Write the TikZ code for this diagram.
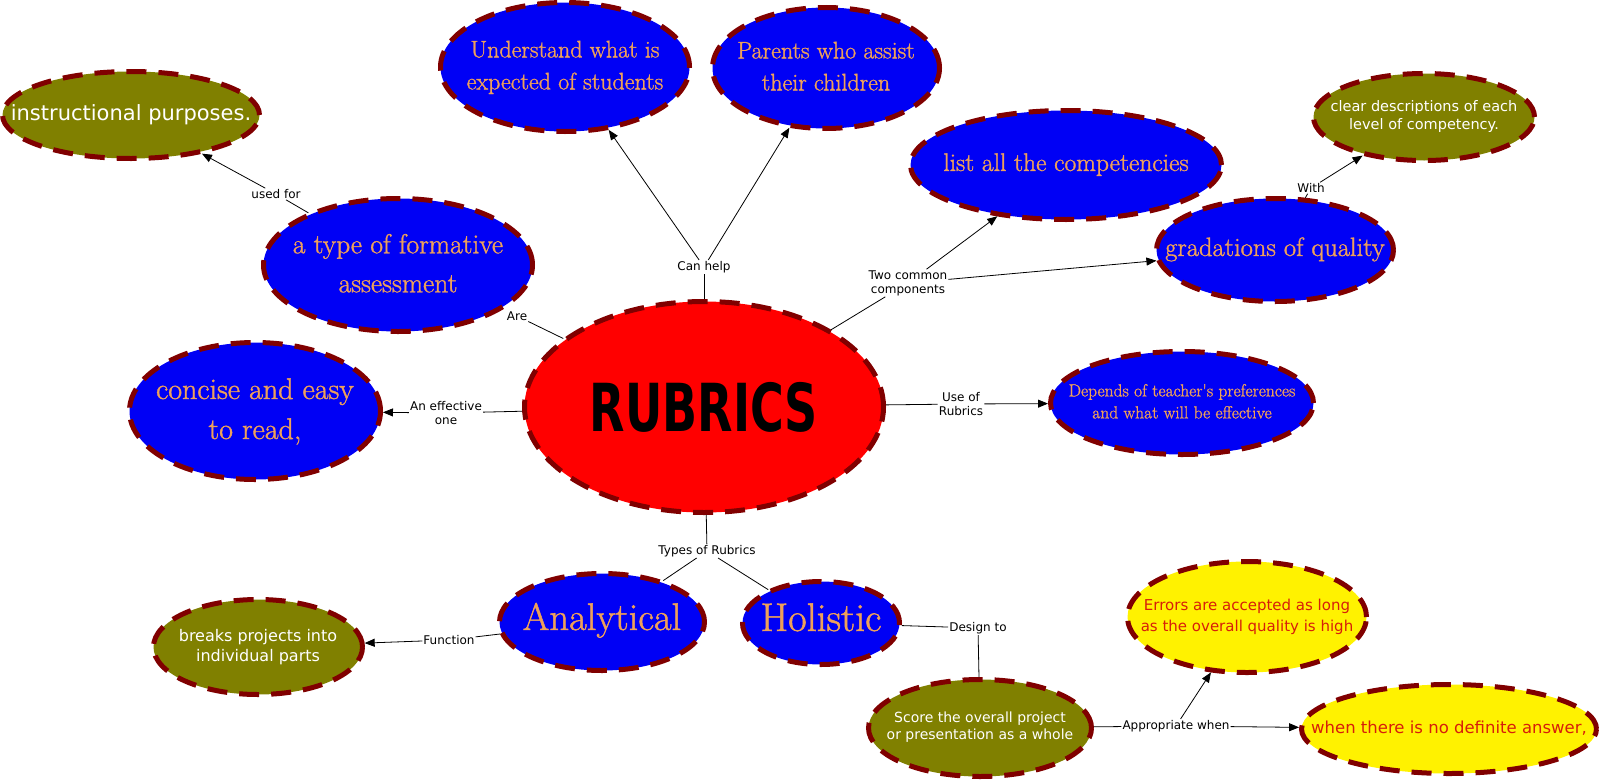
\documentclass[tikz,border=0pt]{standalone}
\usepackage{fontspec}
\usepackage{tikz}
\usetikzlibrary{arrows.meta,shapes.geometric}
\definecolor{bubbleblue}{RGB}{0,0,245}
\definecolor{dashred}{RGB}{128,0,0}
\definecolor{olivefill}{RGB}{128,128,0}
\definecolor{peach}{RGB}{238,160,90}
\definecolor{errred}{RGB}{215,30,10}
\newfontfamily\lblfont{DejaVu Sans}
\newfontfamily\bubblefont{Latin Modern Roman}[FakeBold=1.2]
\newcommand{\bubbletext}[1]{\makebox[0pt]{\begin{tabular}{@{}c@{}}#1\end{tabular}}}

\begin{document}
\begin{tikzpicture}[x=1pt,y=-1pt,
  bubble/.style={ellipse,draw=dashred,line width=5pt,dash pattern=on 20pt off 12pt,inner sep=0pt},
  bluebubble/.style={bubble,fill=bubbleblue,text=peach},
  olivebubble/.style={bubble,fill=olivefill,text=white},
  yellowbubble/.style={bubble,fill=yellow,text=errred},
  linklabel/.style={inner sep=1pt,align=center,font=\lblfont\fontsize{12}{14}\selectfont},
  link/.style={line width=.8pt},
  arrowlink/.style={link,-{Triangle[length=10pt,width=8pt]}}]
\useasboundingbox (0,0) rectangle (1600,779);
\node[bubble,fill=red,minimum width=359pt,minimum height=211pt] (rubrics) at (704,407)
  {\makebox[0pt]{\scalebox{1}[1.44]{\lblfont\bfseries\fontsize{46}{50}\selectfont RUBRICS}}};
\node[olivebubble,minimum width=257pt,minimum height=87pt,font=\lblfont\fontsize{21}{25}\selectfont] (instr) at (131,115)
  {\bubbletext{instructional purposes.}};
\node[bluebubble,minimum width=269pt,minimum height=133pt,font=\bubblefont\fontsize{27.5}{39}\selectfont] (formative) at (398,265)
  {\bubbletext{a type of formative\\assessment}};
\node[bluebubble,minimum width=249pt,minimum height=129pt,font=\bubblefont\fontsize{24}{32}\selectfont] (underst) at (565,67)
  {\bubbletext{Understand what is\\expected of students}};
\node[bluebubble,minimum width=227pt,minimum height=121pt,font=\bubblefont\fontsize{24}{32}\selectfont] (parents) at (826,68)
  {\bubbletext{Parents who assist\\their children}};
\node[bluebubble,minimum width=311pt,minimum height=109pt,font=\bubblefont\fontsize{25.5}{30}\selectfont] (list) at (1066,165)
  {\bubbletext{list all the competencies}};
\node[olivebubble,minimum width=221pt,minimum height=87pt,font=\lblfont\fontsize{14.5}{18}\selectfont] (clear) at (1424,117)
  {\bubbletext{clear descriptions of each\\level of competency.}};
\node[bluebubble,minimum width=237pt,minimum height=103pt,font=\bubblefont\fontsize{26.5}{30}\selectfont] (grad) at (1275,250)
  {\bubbletext{gradations of quality}};
\node[bluebubble,minimum width=251pt,minimum height=137pt,font=\bubblefont\fontsize{30}{40}\selectfont] (concise) at (255,411)
  {\bubbletext{concise and easy\\to read,}};
\node[bluebubble,minimum width=263pt,minimum height=103pt,font=\bubblefont\fontsize{17.5}{22}\selectfont] (depends) at (1182,403)
  {\bubbletext{Depends of teacher's preferences\\and what will be effective}};
\node[bluebubble,minimum width=205pt,minimum height=97pt,font=\bubblefont\fontsize{38.5}{40}\selectfont] (analyt) at (602,622)
  {\bubbletext{Analytical}};
\node[bluebubble,minimum width=157pt,minimum height=83pt,font=\bubblefont\fontsize{40}{40}\selectfont] (holist) at (821,623)
  {\bubbletext{Holistic}};
\node[olivebubble,minimum width=209pt,minimum height=95pt,font=\lblfont\fontsize{16}{20}\selectfont] (breaks) at (258,647)
  {\bubbletext{breaks projects into\\individual parts}};
\node[olivebubble,minimum width=223pt,minimum height=97pt,font=\lblfont\fontsize{14}{17}\selectfont] (score) at (980,728)
  {\bubbletext{Score the overall project\\or presentation as a whole}};
\node[yellowbubble,minimum width=239pt,minimum height=111pt,font=\lblfont\fontsize{15}{21}\selectfont] (errors) at (1247,617)
  {\bubbletext{Errors are accepted as long\\as the overall quality is high}};
\node[yellowbubble,minimum width=295pt,minimum height=89pt,font=\lblfont\fontsize{16.5}{20}\selectfont] (whenno) at (1449,729)
  {\bubbletext{when there is no definite answer,}};
\node[linklabel] (usedfor) at (276,194) {used for};
\node[linklabel] (canhelp) at (704,267) {Can help};
\node[linklabel] (twocommon) at (908,283) {Two common\\components};
\node[linklabel] (with) at (1311,188) {With};
\node[linklabel] (are) at (517,316) {Are};
\node[linklabel] (effective) at (446,413) {An effective\\one};
\node[linklabel] (useof) at (961,404) {Use of\\Rubrics};
\node[linklabel] (types) at (707,551) {Types of Rubrics};
\node[linklabel] (function) at (449,640) {Function};
\node[linklabel] (designto) at (978,628) {Design to};
\node[linklabel] (appropriate) at (1176,726) {Appropriate when};
\draw[link] (formative) -- (usedfor);
\draw[arrowlink] (usedfor) -- (instr);
\draw[link] (rubrics) -- (canhelp);
\draw[arrowlink] (canhelp) -- (underst);
\draw[arrowlink] (canhelp) -- (parents);
\draw[link] (rubrics) -- (twocommon);
\draw[arrowlink] (twocommon) -- (list);
\draw[arrowlink] (twocommon) -- (grad);
\draw[link] (grad) -- (with);
\draw[arrowlink] (with) -- (clear);
\draw[link] (rubrics) -- (are);
\draw[link] (rubrics) -- (effective);
\draw[arrowlink] (effective) -- (concise);
\draw[link] (rubrics) -- (useof);
\draw[arrowlink] (useof) -- (depends);
\draw[link] (rubrics) -- (types);
\draw[link] (types) -- (analyt);
\draw[link] (types) -- (holist);
\draw[link] (analyt) -- (function);
\draw[arrowlink] (function) -- (breaks);
\draw[link] (holist) -- (designto);
\draw[link] (designto) -- (score);
\draw[link] (score) -- (appropriate);
\draw[arrowlink] (appropriate) -- (errors);
\draw[arrowlink] (appropriate) -- (whenno);
\end{tikzpicture}
\end{document}
